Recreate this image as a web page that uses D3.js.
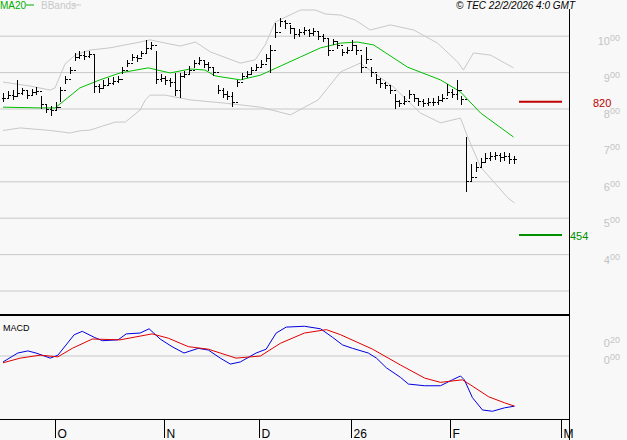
<!DOCTYPE html>
<html>
<head>
<meta charset="utf-8">
<script src="https://cdn.jsdelivr.net/npm/d3@7"></script>
<style>
  body { margin: 0; background: #f8f8f8; }
  svg { display: block; font-family: 'Liberation Sans', Arial, sans-serif; }
</style>
</head>
<body>
<svg id="chart" width="627" height="440"></svg>
<script>
// daily bars, index 0 = mid September 2025
const closes = [830,838,835,842,850,838,845,848, 812,800,795,805, 852,880,905, 942,948,945,950, 862,
  855,865,870,875,882, 905,925,942,938,952,965, 975,880, 885,878,872,850,888, 895,905,925,932,
  922,915,900, 850,840,835,818, 872,890,895,905, 915,922,940,962, 1010,1040,1035,
  1020,1005,1010,1015,1008,1012,1000, 995,960,985,975, 955,960,975,960,915,935,900,880,870,
  865,850,820,815,820,840,830,820,815,818,818,822,830,845,840,850,825,
  600,612,640,652,665,670,672,668,670,662,660];
const highs = [845,850,852,880,858,850,855,860, 835,812,808,820, 860,890,915, 955,960,958,960, 950,
  870,880,885,888,892, 915,935,952,948,960,990, 985,960, 895,892,885,900,900, 905,918,935,942,
  935,928,912, 865,858,850,848, 880,900,905,915, 925,935,950,975, 1035,1050,1045,
  1030,1020,1020,1025,1020,1022,1012, 1005,995,992,985, 965,970,990,975,948,970,915,895,885,
  875,862,840,825,835,852,842,830,828,830,830,835,842,870,855,880,835,
  722,650,655,665,678,682,682,680,682,680,672];
const lows = [820,828,825,832,838,828,835,838, 800,790,780,795, 818,870,895, 932,938,935,940, 845,
  845,855,862,865,872, 895,915,932,928,942,955, 962,870, 875,865,860,835,830, 885,895,912,920,
  912,905,890, 840,830,825,805, 860,880,885,895, 905,912,930,900, 995,1025,1020,
  1005,992,998,1002,998,1000,990, 985,945,975,965, 945,950,962,948,900,925,888,868,858,
  855,840,800,805,810,828,820,808,805,808,808,812,820,835,830,825,810,
  572,600,628,640,652,658,660,655,658,650,648];

// [bar index, value]
const ma20 = [[0,805],[7.8,803],[10.9,803],[13,825],[16.1,858],[20.3,880],[24.5,899],[30.4,913],[35,899],
  [39.2,910],[42.3,907],[44.4,891],[49.7,880],[53.9,893],[58.1,918],[62.3,943],[66.5,968],[70.7,981],
  [74.2,984],[77.6,976],[84.7,915],[91.6,880],[95.8,847],[100,789],[106.9,723]];
const bbUpper = [[0,874],[5.7,863],[9.9,852],[10.9,858],[13,924],[15.1,948],[18.2,962],[22.4,968],[28.7,984],
  [30.8,990],[34,981],[37.1,973],[40.3,984],[43.4,957],[49.7,926],[52.8,935],[54.9,976],[57,1039],
  [62.3,1072],[65.4,1072],[67.5,1061],[70.7,1058],[73.8,1044],[76.9,1017],[81.1,1031],[86,1017],
  [91,981],[95.2,929],[96.4,907],[98.5,954],[102.1,948],[106.9,913]];
const bbLower = [[0,741],[3.6,748],[9.9,741],[14,734],[16.1,740],[18.2,742],[23.5,764],[25.6,764],
  [28.7,797],[29.8,825],[30.8,838],[34,838],[39.2,825],[46.5,816],[53.9,805],[60.2,784],
  [66,825],[70.7,902],[74.8,926],[81.8,860],[87.4,789],[91.6,762],[95.8,775],[97.3,723],[100,641],
  [105.7,556],[107.1,542]];
const macd = [[0,-0.07],[3.1,0.035],[5.2,0.06],[6.9,0.035],[9.9,-0.025],[11.5,0.01],[14.9,0.25],[16.6,0.29],
  [19.1,0.22],[20.8,0.18],[24.1,0.19],[25.8,0.26],[28.7,0.27],[30.6,0.32],[32.9,0.2],[35.4,0.11],
  [37.9,0.035],[40.9,0.09],[43,0.07],[45.5,-0.025],[47.6,-0.095],[49.7,-0.07],[53,0.035],[55.1,0.08],
  [57.2,0.27],[59.3,0.34],[63.1,0.35],[66.5,0.32],[69,0.22],[71.1,0.13],[73.2,0.09],[76.5,0.035],
  [78.2,-0.025],[80.3,-0.14],[83.2,-0.25],[84.9,-0.33],[88.3,-0.35],[91.6,-0.35],[94.1,-0.28],
  [95.8,-0.235],[96.6,-0.28],[98.3,-0.49],[100.4,-0.635],[102.5,-0.65],[105,-0.61],[107.1,-0.59]];
const signal = [[0,-0.08],[3.6,-0.025],[7.8,0.01],[11.5,-0.01],[14.5,0.09],[18.7,0.2],[24.5,0.19],[31.2,0.26],
  [34.6,0.21],[38.8,0.11],[43,0.08],[48.8,-0.025],[53.9,0],[58.1,0.15],[63.1,0.27],[67.7,0.31],
  [70.7,0.25],[77.4,0.08],[83.2,-0.105],[88.3,-0.26],[91.6,-0.31],[96.2,-0.28],[97.9,-0.34],
  [101.7,-0.48],[105,-0.55],[107.1,-0.59]];

const priceTicks = [1000, 900, 800, 700, 600, 500, 400, 300];
const macdTicks = [0.2, 0];
const monthTicks = [[10.9,'O'],[33.8,'N'],[53.7,'D'],[72.8,'26'],[93.7,'F'],[116.8,'M']];
const levels = [[820,'#c00000', 593], [454,'#009000', 570]];

const W = 569;
const svg = d3.select('#chart');
const x = d3.scaleLinear().domain([0, 107]).range([3, 514]);
const y = d3.scaleLinear().domain([800, 1000]).range([109, 36.2]);
const ym = d3.scaleLinear().domain([0, 0.2]).range([356, 339]);

// grid
svg.selectAll('.pgrid').data(priceTicks).enter().append('line')
  .attr('x1', 0).attr('x2', W).attr('y1', d => y(d)).attr('y2', d => y(d))
  .attr('stroke', '#c8c8c8');
svg.append('line').attr('x1', 0).attr('x2', W).attr('y1', ym(0)).attr('y2', ym(0)).attr('stroke', '#c8c8c8');

// right labels with raised decimals
const lab = (sel, big, small) => {
  sel.append('tspan').text(big);
  sel.append('tspan').attr('dy', -4).attr('font-size', 9).text(small);
};
priceTicks.filter(d => d >= 400).forEach(d => {
  let t = svg.append('text').attr('x', 620).attr('y', y(d) + 9).attr('text-anchor', 'end')
    .attr('fill', '#c4c4c4').attr('font-size', 11);
  lab(t, String(d / 100), '00');
});
macdTicks.forEach(d => {
  let t = svg.append('text').attr('x', 620).attr('y', ym(d) + 8).attr('text-anchor', 'end')
    .attr('fill', '#c4c4c4').attr('font-size', 11);
  lab(t, '0', d === 0 ? '00' : '20');
});

// bands & MA
const line = (s) => d3.line().x(d => x(d[0])).y(d => s(d[1]));
[bbUpper, bbLower].forEach(b => svg.append('path').attr('d', line(y)(b))
  .attr('fill', 'none').attr('stroke', '#c8c8c8'));
svg.append('path').attr('d', line(y)(ma20)).attr('fill', 'none').attr('stroke', '#00c000');

// bars
const bars = svg.append('g').attr('stroke', '#000').attr('shape-rendering', 'crispEdges');
closes.forEach((c, i) => {
  let xi = Math.round(x(i)) + 0.5;
  let o = i > 0 ? closes[i - 1] : c;
  bars.append('line').attr('x1', xi).attr('x2', xi).attr('y1', y(highs[i])).attr('y2', y(lows[i])).attr('stroke-width', 1.5);
  bars.append('line').attr('x1', xi - 2).attr('x2', xi).attr('y1', y(o)).attr('y2', y(o));
  bars.append('line').attr('x1', xi).attr('x2', xi + 2).attr('y1', y(c)).attr('y2', y(c));
});

// levels
levels.forEach(([v, col, lx]) => {
  svg.append('line').attr('x1', 519).attr('x2', 562).attr('y1', y(v)).attr('y2', y(v))
    .attr('stroke', col).attr('stroke-width', 2);
  svg.append('text').attr('x', lx).attr('y', y(v) + 5).attr('fill', col).attr('font-size', 11).text(v);
});

// macd
svg.append('path').attr('d', line(ym)(macd)).attr('fill', 'none').attr('stroke', '#0000e0');
svg.append('path').attr('d', line(ym)(signal)).attr('fill', 'none').attr('stroke', '#e00000');

// frame
svg.append('line').attr('x1', W + 0.5).attr('x2', W + 0.5).attr('y1', 9).attr('y2', 440).attr('stroke', '#000');
svg.append('line').attr('x1', 0).attr('x2', W).attr('y1', 315).attr('y2', 315).attr('stroke', '#000').attr('stroke-width', 2);
svg.append('line').attr('x1', 0).attr('x2', W).attr('y1', 419.5).attr('y2', 419.5).attr('stroke', '#000');
monthTicks.forEach(([i, t]) => {
  let xi = Math.round(x(i)) + 0.5;
  svg.append('line').attr('x1', xi).attr('x2', xi).attr('y1', 419).attr('y2', 438).attr('stroke', '#000');
  svg.append('text').attr('x', xi + 2).attr('y', 438).attr('font-size', 12).text(t);
});

// titles
svg.append('text').attr('x', 0).attr('y', 9).attr('fill', '#00b000').attr('font-size', 10).text('MA20');
svg.append('line').attr('x1', 26).attr('x2', 34).attr('y1', 5).attr('y2', 5).attr('stroke', '#00b000');
svg.append('text').attr('x', 41).attr('y', 9).attr('fill', '#c8c8c8').attr('font-size', 10).text('BBands');
svg.append('line').attr('x1', 73).attr('x2', 81).attr('y1', 5).attr('y2', 5).attr('stroke', '#c8c8c8');
svg.append('text').attr('x', 575).attr('y', 9).attr('text-anchor', 'end').attr('font-size', 10)
  .attr('font-style', 'italic').text('© TEC 22/2/2026 4:0 GMT');
svg.append('text').attr('x', 3).attr('y', 331).attr('font-size', 9).text('MACD');
</script>
</body>
</html>
